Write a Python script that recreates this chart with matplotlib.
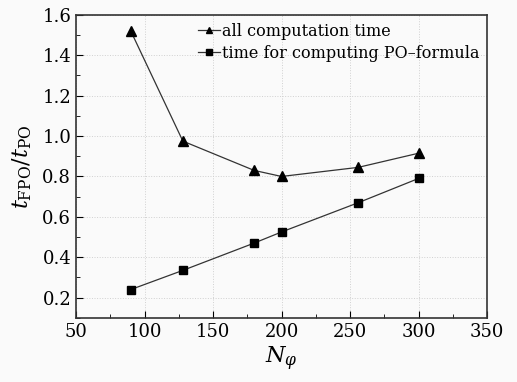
import matplotlib
matplotlib.use("Agg")
import matplotlib.pyplot as plt
from matplotlib.ticker import MultipleLocator

plt.rcParams["font.family"] = ["DejaVu Serif"]
plt.rcParams["mathtext.fontset"] = "dejavuserif"

n_phi = [90, 128, 180, 200, 256, 300]
all_time = [1.52, 0.975, 0.83, 0.80, 0.845, 0.915]
po_time = [0.24, 0.335, 0.47, 0.525, 0.67, 0.79]

fig = plt.figure(figsize=(5.17, 3.82), dpi=100)
fig.patch.set_facecolor("#fafafa")
ax = fig.add_axes([0.147, 0.168, 0.795, 0.793])
ax.set_facecolor("#fafafa")

ax.plot(n_phi, all_time, color="#333333", lw=0.9, marker="^", ms=7, mfc="black", mec="black",
        label="all computation time")
ax.plot(n_phi, po_time, color="#333333", lw=0.9, marker="s", ms=6, mfc="black", mec="black",
        label="time for computing PO\u2013formula")

ax.set_xlim(50, 350); ax.set_ylim(0.1, 1.6)
ax.xaxis.set_major_locator(MultipleLocator(50)); ax.xaxis.set_minor_locator(MultipleLocator(25))
ax.yaxis.set_major_locator(MultipleLocator(0.2)); ax.yaxis.set_minor_locator(MultipleLocator(0.1))
ax.set_yticks([0.2, 0.4, 0.6, 0.8, 1.0, 1.2, 1.4, 1.6])
ax.tick_params(which="both", direction="in", labelsize=13, top=False, right=False)
ax.tick_params(which="major", length=5)
ax.tick_params(which="minor", length=3)
ax.grid(True, which="major", ls=":", lw=0.7, color="#d0d0d0")
for s in ax.spines.values():
    s.set_linewidth(1.2); s.set_color("#333333")

ax.set_xlabel(r"$N_{\varphi}$", fontsize=16, labelpad=3)
ax.set_ylabel(r"$t_{\mathrm{FPO}}/t_{\mathrm{PO}}$", fontsize=16, labelpad=6)

ax.legend(loc="upper right", frameon=False, fontsize=11.5, handlelength=1.4, handletextpad=0.1,
          labelspacing=0.3, borderaxespad=0.1, markerscale=0.7)

fig.savefig("out.png", dpi=100)
